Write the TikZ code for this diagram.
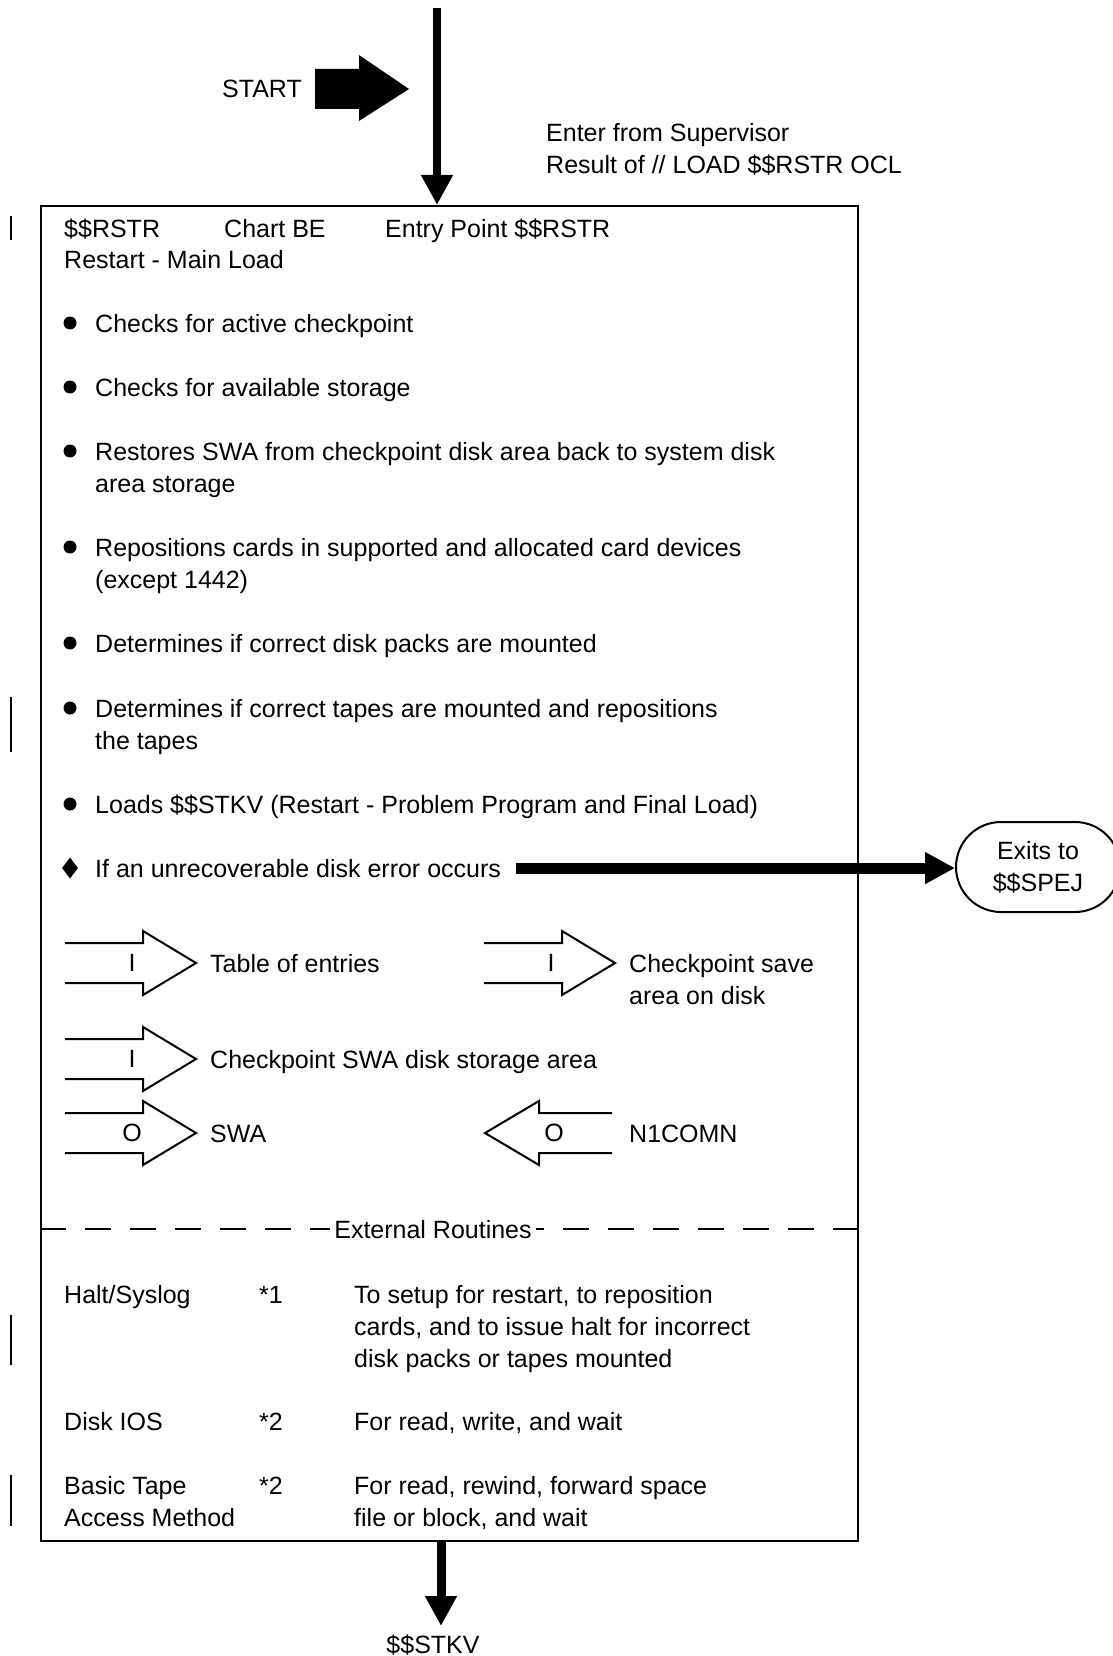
\documentclass[tikz,border=0pt]{standalone}
\usepackage{fontspec}
\setmainfont{Liberation Sans}
\usetikzlibrary{arrows.meta, positioning, shapes.geometric}

\begin{document}
\begin{tikzpicture}[
  x=1pt, y=-1pt,
  font=\fontsize{25}{32}\selectfont,
  txt/.style={anchor=base west, align=left, inner sep=0pt},
  dot/.style={circle, fill, inner sep=0pt, minimum size=13pt},
  flow/.style={line width=9pt, -{Triangle[length=30pt, width=30pt]}},
  ioarrow/.style={line width=2pt, line join=miter},
  io/.style={inner sep=0pt},
  sep/.style={line width=2pt, dash pattern=on 26pt off 19pt},
  bar/.style={line width=2.5pt}
]
  \useasboundingbox (0,0) rectangle (1112,1656);
  \fill[white] (0,0) rectangle (1112,1656);

  % entry (multi-line texts sit on the baseline of their last line)
  \node[txt] (start) at (222,98) {START};
  \fill (315,69) -- (359,69) -- (359,55) -- (409,89) -- (359,121) -- (359,109) -- (315,109) -- cycle;
  \node[txt] (enter) at (546,174) {Enter from Supervisor\\Result of // LOAD \$\$RSTR OCL};

  % main box
  \node[draw, line width=2pt, inner sep=0pt, minimum width=817pt, minimum height=1335pt, anchor=north west] (chart) at (40,205) {};
  \coordinate (entry) at (437,8);
  \draw[flow, line width=8.5pt] (entry) -- (entry |- chart.north);

  \node[txt] (rstr) at (64,237) {\$\$RSTR};
  \node[txt] (chartid) at (224,237) {Chart BE};
  \node[txt] (entrypt) at (385,237) {Entry Point \$\$RSTR};
  \node[txt] (title) at (64,268) {Restart - Main Load};

  \foreach \by/\ly/\itemtext [count=\i] in {
      332/332/Checks for active checkpoint,
      396/396/Checks for available storage,
      460/492/{Restores SWA from checkpoint disk area back to system disk\\area storage},
      556/588/{Repositions cards in supported and allocated card devices\\(except 1442)},
      652/652/Determines if correct disk packs are mounted,
      717/749/{Determines if correct tapes are mounted and repositions\\the tapes},
      813/813/{Loads \$\$STKV (Restart - Problem Program and Final Load)}} {
    \node[dot] (dot\i) at (70,\by-9) {};
    \node[txt] (item\i) at (95,\ly) {\itemtext};
  }
  \node[diamond, fill, inner sep=0pt, minimum width=16pt, minimum height=21pt] (dia) at (70,868) {};
  \node[txt] (diskerr) at (95,877) {If an unrecoverable disk error occurs};

  % exit
  \node[draw, line width=2pt, rounded corners=45pt, minimum width=164pt, minimum height=90pt,
    align=center, inner sep=0pt] (spej) at (1038,867) {Exits to\\\$\$SPEJ};
  \draw[flow, line width=11pt, shorten <=15pt] (diskerr.east) -- (diskerr.east -| spej.west);

  % inputs and outputs
  \foreach \ax/\ay/\io [count=\i] in {65/963/I, 484/963/I, 65/1059/I, 65/1133/O}
    \draw[ioarrow] (\ax,\ay-20) -- (\ax+78,\ay-20) -- (\ax+78,\ay-32) -- (\ax+131,\ay)
      -- (\ax+78,\ay+32) -- (\ax+78,\ay+20) -- (\ax,\ay+20)
      node[io] (io\i) at (\ax+67,\ay) {\io};
  \draw[ioarrow] (612,1113) -- (539,1113) -- (539,1101) -- (485,1133) -- (539,1165)
    -- (539,1153) -- (612,1153) node[io] (io5) at (554,1133) {O};

  \node[txt] (tblent) at (210,972) {Table of entries};
  \node[txt] (ckptsave) at (629,1004) {Checkpoint save\\area on disk};
  \node[txt] (ckptswa) at (210,1068) {Checkpoint SWA disk storage area};
  \node[txt] (swaout) at (210,1142) {SWA};
  \node[txt] (ncomn) at (629,1142) {N1COMN};

  % external routines
  \node[anchor=base, inner sep=0pt] (ext) at (433,1238) {External Routines};
  \draw[sep, shorten >=4pt] (chart.west |- ext) -- (ext.west);
  \draw[sep, shorten >=4pt] (chart.east |- ext) -- (ext.east);

  \node[txt] (halt) at (64,1303) {Halt/Syslog};
  \node[txt] (haltref) at (259,1303) {*1};
  \node[txt] (haltdesc) at (354,1367) {To setup for restart, to reposition\\cards, and to issue halt for incorrect\\disk packs or tapes mounted};
  \node[txt] (disk) at (64,1430) {Disk IOS};
  \node[txt] (diskref) at (259,1430) {*2};
  \node[txt] (diskdesc) at (354,1430) {For read, write, and wait};
  \node[txt] (tape) at (64,1526) {Basic Tape\\Access Method};
  \node[txt] (taperef) at (259,1494) {*2};
  \node[txt] (tapedesc) at (354,1526) {For read, rewind, forward space\\file or block, and wait};

  % leave
  \coordinate (exit) at (441,1626);
  \draw[flow] (exit |- chart.south) -- (exit);
  \node[anchor=base, inner sep=0pt] (stkv) at (433,1653) {\$\$STKV};

  % change bars
  \foreach \ya/\yb in {216/240, 697/752, 1315/1365, 1475/1526}
    \draw[bar] (11,\ya) -- (11,\yb);
\end{tikzpicture}
\end{document}
